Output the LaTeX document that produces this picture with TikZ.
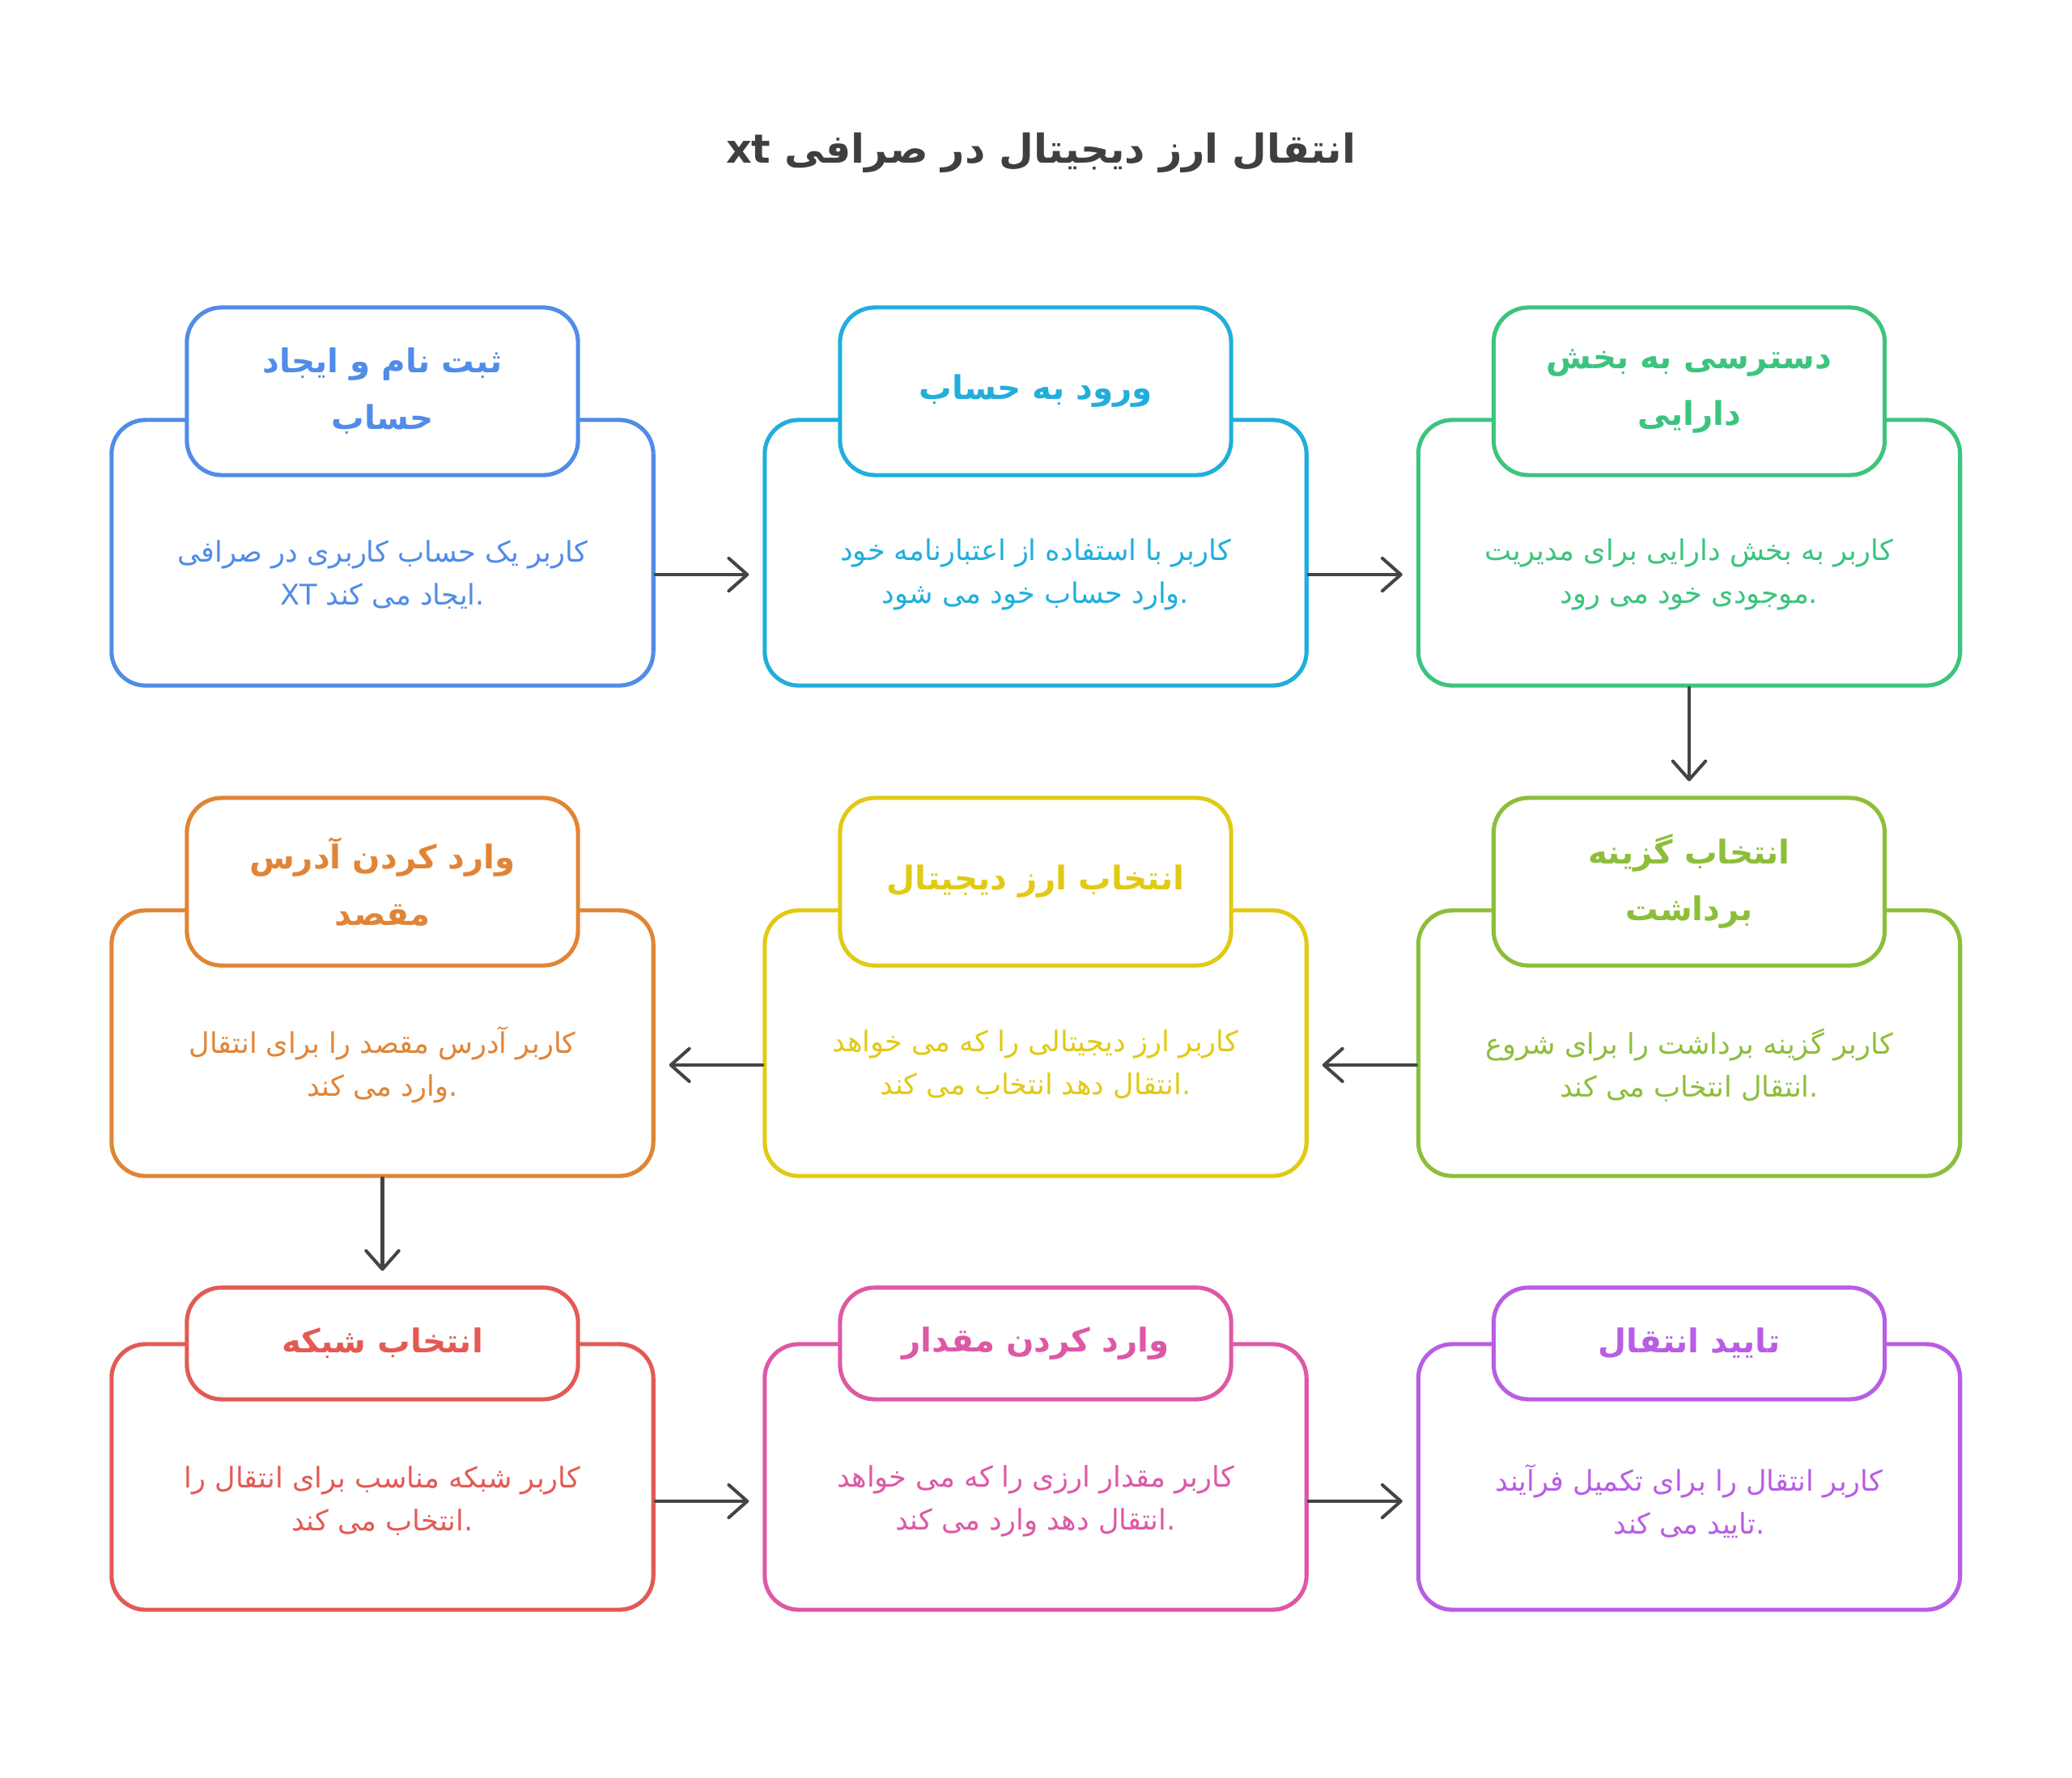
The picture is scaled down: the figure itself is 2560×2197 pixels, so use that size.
\documentclass[tikz,border=0pt]{standalone}
\usepackage{fontspec}
\TeXXeTstate=1
\newfontfamily\arabicfont[Script=Arabic]{DejaVu Sans}
\usetikzlibrary{arrows.meta,calc}
\definecolor{cblue}{HTML}{508CE8}
\definecolor{ccyan}{HTML}{21AEDC}
\definecolor{cgreen}{HTML}{3CC47E}
\definecolor{clime}{HTML}{8DBE3A}
\definecolor{cyellow}{HTML}{E1CA14}
\definecolor{corange}{HTML}{E08536}
\definecolor{cred}{HTML}{E35A55}
\definecolor{cpink}{HTML}{DE58A6}
\definecolor{cpurple}{HTML}{B95DE4}
\definecolor{arrowgray}{HTML}{444444}
\definecolor{titlegray}{HTML}{3F3F3F}
\newcommand\hdfont{\arabicfont\bfseries\fontsize{11.5}{19.9}\selectfont}
\newcommand\bdfont{\arabicfont\fontsize{10}{15.1}\selectfont}
\newcommand\ttlfont{\arabicfont\bfseries\fontsize{14}{20}\selectfont}
\tikzset{
  outerbox/.style={draw=#1, line width=1.45pt, rounded corners=0.42cm,
    minimum width=6.69cm, minimum height=3.28cm, fill=white, inner sep=0pt},
  headbox/.style={draw=#1, line width=1.45pt, rounded corners=0.43cm,
    minimum width=4.83cm, fill=white, text=#1, font=\hdfont, align=center, inner sep=0pt},
  tallhead/.style={headbox=#1, minimum height=2.07cm},
  shorthead/.style={headbox=#1, minimum height=1.38cm},
  bodytext/.style={text=#1, font=\bdfont, align=center, inner sep=0pt},
  arr/.style={draw=arrowgray, line width=1.15pt, line cap=round,
    -{Straight Barb[length=6.5pt,width=11.5pt,line cap=round,line join=round]}},
}
\begin{document}
\begin{tikzpicture}[x=0.01cm, y=-0.01cm]
\fill[white] (0,0) rectangle (2560,2197);
\useasboundingbox (0,0) rectangle (2560,2197);

\node[text=titlegray, font=\ttlfont] (title) at (1286,189)
  {\beginR انتقال ارز دیجیتال در صرافی \beginL xt\endL\endR};

% ---------- Row 1 ----------
\node[outerbox=cblue] (o1) at (472.5,683) {};
\node[tallhead=cblue] (h1) at (472.5,483.5) {\beginR ثبت نام و ایجاد\endR\\\beginR حساب\endR};
\node[bodytext=cblue] (b1) at (472.5,710) {\beginR کاربر یک حساب کاربری در صرافی\endR\\XT \beginR ایجاد می کند\endR.};

\node[outerbox=ccyan] (o2) at (1279.5,683) {};
\node[tallhead=ccyan] (h2) at (1279.5,483.5) {\beginR ورود به حساب\endR};
\node[bodytext=ccyan] (b2) at (1279.5,710) {\beginR کاربر با استفاده از اعتبارنامه خود\endR\\\beginR وارد حساب خود می شود\endR.};

\node[outerbox=cgreen] (o3) at (2087,683) {};
\node[tallhead=cgreen] (h3) at (2087,483.5) {\beginR دسترسی به بخش\endR\\\beginR دارایی\endR};
\node[bodytext=cgreen] (b3) at (2087,710) {\beginR کاربر به بخش دارایی برای مدیریت\endR\\\beginR موجودی خود می رود\endR.};

% ---------- Row 2 ----------
\node[outerbox=clime] (o4) at (2087,1289) {};
\node[tallhead=clime] (h4) at (2087,1089.5) {\beginR انتخاب گزینه\endR\\\beginR برداشت\endR};
\node[bodytext=clime] (b4) at (2087,1316) {\beginR کاربر گزینه برداشت را برای شروع\endR\\\beginR انتقال انتخاب می کند\endR.};

\node[outerbox=cyellow] (o5) at (1279.5,1289) {};
\node[tallhead=cyellow] (h5) at (1279.5,1089.5) {\beginR انتخاب ارز دیجیتال\endR};
\node[bodytext=cyellow] (b5) at (1279.5,1316) {\beginR کاربر ارز دیجیتالی را که می خواهد\endR\\\beginR انتقال دهد انتخاب می کند\endR.};

\node[outerbox=corange] (o6) at (472.5,1289) {};
\node[tallhead=corange] (h6) at (472.5,1089.5) {\beginR وارد کردن آدرس\endR\\\beginR مقصد\endR};
\node[bodytext=corange] (b6) at (472.5,1316) {\beginR کاربر آدرس مقصد را برای انتقال\endR\\\beginR وارد می کند\endR.};

% ---------- Row 3 ----------
\node[outerbox=cred] (o7) at (472.5,1825) {};
\node[shorthead=cred] (h7) at (472.5,1660) {\beginR انتخاب شبکه\endR};
\node[bodytext=cred] (b7) at (472.5,1855) {\beginR کاربر شبکه مناسب برای انتقال را\endR\\\beginR انتخاب می کند\endR.};

\node[outerbox=cpink] (o8) at (1279.5,1825) {};
\node[shorthead=cpink] (h8) at (1279.5,1660) {\beginR وارد کردن مقدار\endR};
\node[bodytext=cpink] (b8) at (1279.5,1855) {\beginR کاربر مقدار ارزی را که می خواهد\endR\\\beginR انتقال دهد وارد می کند\endR.};

\node[outerbox=cpurple] (o9) at (2087,1825) {};
\node[shorthead=cpurple] (h9) at (2087,1660) {\beginR تایید انتقال\endR};
\node[bodytext=cpurple] (b9) at (2087,1855) {\beginR کاربر انتقال را برای تکمیل فرآیند\endR\\\beginR تایید می کند\endR.};

% ---------- Connectors ----------
\draw[arr] (o1.east |- b1.center) -- ([xshift=-0.17cm]o2.west |- b1.center);
\draw[arr] (o2.east |- b2.center) -- ([xshift=-0.17cm]o3.west |- b2.center);
\draw[arr] (o3.south) -- ([yshift=0.18cm]h4.north);
\draw[arr] (o4.west |- b4.center) -- ([xshift=0.17cm]o5.east |- b4.center);
\draw[arr] (o5.west |- b5.center) -- ([xshift=0.17cm]o6.east |- b5.center);
\draw[arr] (o6.south) -- ([yshift=0.18cm]h7.north);
\draw[arr] (o7.east |- b7.center) -- ([xshift=-0.17cm]o8.west |- b7.center);
\draw[arr] (o8.east |- b8.center) -- ([xshift=-0.17cm]o9.west |- b8.center);
\end{tikzpicture}
\end{document}
